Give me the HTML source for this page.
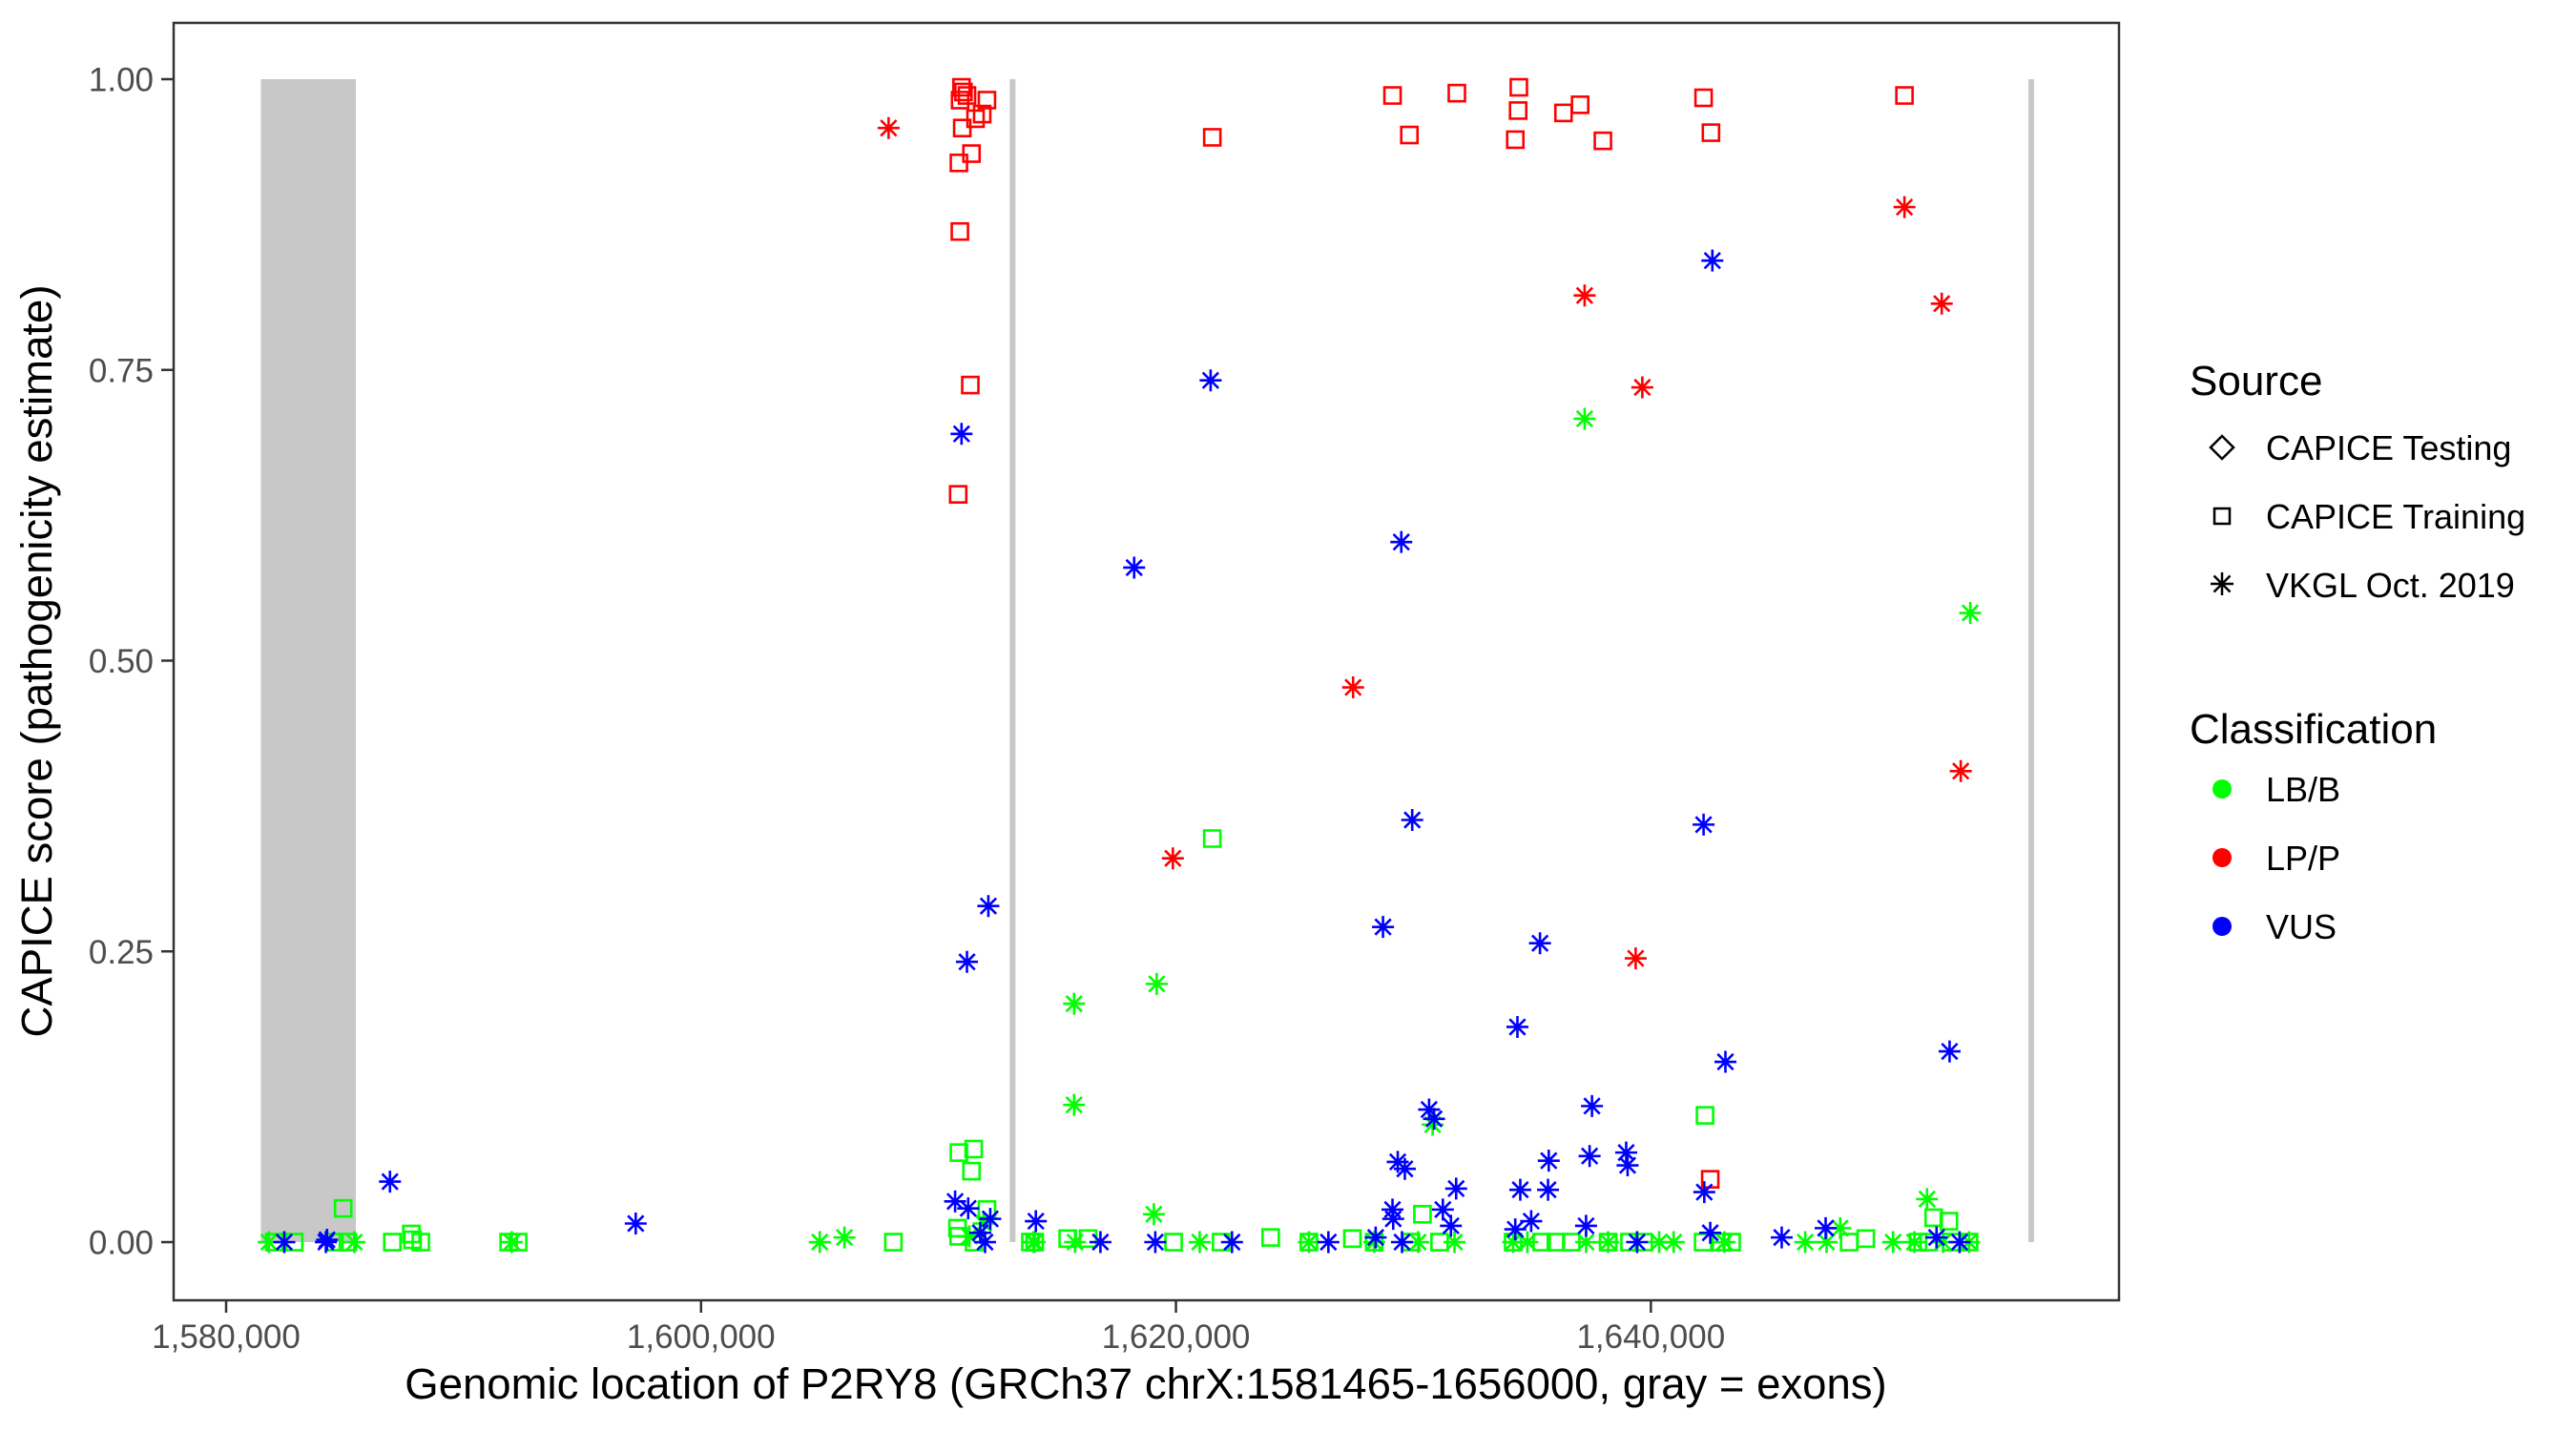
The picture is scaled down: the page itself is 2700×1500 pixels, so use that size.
<!DOCTYPE html>
<html><head><meta charset="utf-8"><style>
html,body{margin:0;padding:0;background:#fff;}
svg{display:block;font-family:"Liberation Sans",Arial,sans-serif;}
</style></head><body>
<svg id="chart" width="2700" height="1500" viewBox="0 0 2700 1500" xmlns="http://www.w3.org/2000/svg">
<rect x="0" y="0" width="2700" height="1500" fill="#fff"/>
<g id="exons"></g>
<g id="marks"></g>
<rect x="182" y="24" width="2039" height="1339" fill="none" stroke="#333" stroke-width="2.5"/>
<g id="axes"></g>
<text x="1201" y="1466" font-size="45.5" text-anchor="middle" fill="#000">Genomic location of P2RY8 (GRCh37 chrX:1581465-1656000, gray = exons)</text>
<text transform="translate(54,693) rotate(-90)" font-size="45.5" text-anchor="middle" fill="#000">CAPICE score (pathogenicity estimate)</text>
<g>
<text x="2295" y="414" font-size="44" fill="#000">Source</text>
<g>
<path d="M2329 457 L2341 469 L2329 481 L2317 469 Z" fill="none" stroke="#000" stroke-width="2.5"/>
<text x="2375" y="482" font-size="36" fill="#000">CAPICE Testing</text></g>
<g>
<rect x="2321" y="533" width="16" height="16" fill="none" stroke="#000" stroke-width="2.5"/>
<text x="2375" y="554" font-size="36" fill="#000">CAPICE Training</text></g>
<g>
<path d="M2317 612 H2341 M2329 600 V624 M2320.5 603.5 L2337.5 620.5 M2337.5 603.5 L2320.5 620.5" stroke="#000" stroke-width="2.5"/>
<text x="2375" y="626" font-size="36" fill="#000">VKGL Oct. 2019</text></g>
<text x="2295" y="779" font-size="44" fill="#000">Classification</text>
<g><circle cx="2329" cy="827" r="10" fill="#00FF00"/><text x="2375" y="840" font-size="36" fill="#000">LB/B</text></g>
<g><circle cx="2329" cy="899" r="10" fill="#FF0000"/><text x="2375" y="912" font-size="36" fill="#000">LP/P</text></g>
<g><circle cx="2329" cy="971" r="10" fill="#0000FF"/><text x="2375" y="984" font-size="36" fill="#000">VUS</text></g>
</g>
</svg>
<script>
const xTicks = [1580000, 1600000, 1620000, 1640000];
const xTickLabels = ["1,580,000", "1,600,000", "1,620,000", "1,640,000"];
const yTicks = [0, 0.25, 0.5, 0.75, 1];
const yTickLabels = ["0.00", "0.25", "0.50", "0.75", "1.00"];
const exonStarts = [1581465, 1613000, 1655900];
const exonEnds = [1585464, 1613220, 1656000];

// kb positions and scores per group
const lppTrainPos = [1610.97,1611.05,1610.91,1611.2,1612.04,1611.84,1611.56,1611.0,1611.39,1610.86,1610.9,1611.34,1610.83,1621.53,1629.12,1629.83,1631.83,1634.44,1634.41,1634.29,1636.32,1637.02,1637.98,1642.22,1642.53,1650.68,1642.5];
const lppTrainScore = [0.993,0.989,0.982,0.986,0.982,0.970,0.966,0.958,0.936,0.928,0.869,0.737,0.643,0.950,0.986,0.952,0.988,0.993,0.973,0.948,0.971,0.978,0.947,0.984,0.954,0.986,0.054];
const lppVkglPos = [1607.9,1650.68,1637.21,1652.25,1639.64,1627.46,1619.87,1653.05,1639.36];
const lppVkglScore = [0.958,0.890,0.814,0.807,0.735,0.477,0.330,0.405,0.244];
const vusVkglPos = [1582.45,1584.2,1584.25,1586.9,1597.25,1610.97,1612.1,1611.2,1610.7,1611.25,1612.18,1611.76,1611.96,1614.1,1642.59,1621.46,1629.49,1618.24,1629.95,1642.22,1628.72,1635.33,1634.38,1643.14,1652.58,1630.66,1630.87,1637.52,1638.96,1639.02,1637.42,1635.7,1629.34,1629.64,1631.8,1634.5,1635.67,1642.25,1629.12,1629.15,1631.24,1631.58,1634.29,1634.96,1637.27,1642.5,1647.36,1645.51,1616.82,1619.13,1622.36,1626.42,1628.41,1629.52,1639.42,1652.03,1653.0];
const vusVkglScore = [0,0,0.002,0.052,0.016,0.695,0.289,0.241,0.035,0.029,0.020,0.008,0,0.018,0.844,0.741,0.602,0.580,0.363,0.359,0.271,0.257,0.185,0.155,0.164,0.114,0.106,0.117,0.077,0.066,0.074,0.070,0.069,0.063,0.046,0.045,0.045,0.043,0.028,0.020,0.028,0.014,0.011,0.018,0.014,0.008,0.012,0.004,0,0,0,0,0.004,0,0,0.004,0];
const lbbVkglPos = [1581.8,1585.4,1605.0,1606.04,1592.03,1614.0,1611.3,1611.9,1637.21,1653.45,1619.19,1615.71,1615.71,1630.81,1619.07,1651.63,1647.97,1614.05,1615.75,1621.0,1625.6,1628.35,1630.2,1631.73,1634.2,1634.8,1637.27,1638.2,1640.35,1640.96,1643.1,1646.5,1647.4,1650.2,1651.1,1652.3,1653.4];
const lbbVkglScore = [0,0,0,0.004,0,0,0.005,0.016,0.708,0.541,0.222,0.205,0.118,0.101,0.024,0.037,0.012,0,0,0,0,0,0,0,0,0,0,0,0,0,0,0,0,0,0,0,0];
const lbbTrainPos = [1582.03,1582.87,1584.56,1585.13,1584.93,1587.0,1587.8,1587.85,1588.2,1591.9,1592.3,1608.1,1610.8,1610.85,1612.04,1610.86,1611.48,1611.39,1611.5,1613.87,1621.53,1642.28,1630.38,1651.91,1652.55,1623.99,1627.43,1649.05,1615.44,1616.3,1614.05,1619.9,1621.9,1625.6,1628.35,1629.9,1631.1,1634.2,1635.4,1636.0,1636.65,1638.2,1639.1,1639.7,1642.2,1642.95,1643.4,1648.35,1651.25,1651.7,1652.65,1653.4];
const lbbTrainScore = [0,0,0,0,0.029,0,0.007,0.002,0,0,0,0,0.012,0.005,0.028,0.077,0.080,0.061,0,0,0.347,0.109,0.024,0.021,0.018,0.004,0.003,0.003,0.003,0.003,0,0,0,0,0,0,0,0,0,0,0,0,0,0,0,0,0,0,0,0,0,0];

const NS = "http://www.w3.org/2000/svg";
function xScale(bp){ return 237 + (bp - 1580000) * 0.024889; }
function yScale(v){ return 1302 - v * 1219; }
function mk(tag, attrs){ const e = document.createElementNS(NS, tag); for (const k in attrs) e.setAttribute(k, attrs[k]); return e; }

const exG = document.getElementById('exons');
exonStarts.forEach((s, i) => {
  const x0 = xScale(s), x1 = xScale(exonEnds[i]);
  const r = mk('rect', {x: x0, y: yScale(1), width: Math.max(x1 - x0, 6), height: yScale(0) - yScale(1), fill: '#C8C8C8'});
  
  
  exG.appendChild(r);
});

const ax = document.getElementById('axes');
xTicks.forEach((t, i) => {
  const x = xScale(t);
  ax.appendChild(mk('line', {x1: x, x2: x, y1: 1363, y2: 1376, stroke: '#333', 'stroke-width': 2.5}));
  const tx = mk('text', {x: x, y: 1413, 'font-size': 35, 'text-anchor': 'middle', fill: '#4D4D4D'});
  tx.textContent = xTickLabels[i];
  
  
  ax.appendChild(tx);
});
yTicks.forEach((t, i) => {
  const y = yScale(t);
  ax.appendChild(mk('line', {x1: 169, x2: 182, y1: y, y2: y, stroke: '#333', 'stroke-width': 2.5}));
  const tx = mk('text', {x: 161, y: y + 12.5, 'font-size': 35, 'text-anchor': 'end', fill: '#4D4D4D'});
  tx.textContent = yTickLabels[i];
  
  
  ax.appendChild(tx);
});

const mG = document.getElementById('marks');
function squares(pos, sc, color, name){
  pos.forEach((p, i) => {
    const x = xScale(p * 1000), y = yScale(sc[i]);
    const r = mk('rect', {x: x - 8.5, y: y - 8.5, width: 17, height: 17, fill: 'none', stroke: color, 'stroke-width': 2.6});
    
    
    mG.appendChild(r);
  });
}
function stars(pos, sc, color, name){
  pos.forEach((p, i) => {
    const x = xScale(p * 1000), y = yScale(sc[i]);
    const h = 11.5, d = 8.2;
    const pth = mk('path', {d: `M${x-h} ${y}H${x+h}M${x} ${y-h}V${y+h}M${x-d} ${y-d}L${x+d} ${y+d}M${x+d} ${y-d}L${x-d} ${y+d}`, stroke: color, 'stroke-width': 2.6, fill: 'none'});
    
    
    mG.appendChild(pth);
  });
}
squares(lbbTrainPos, lbbTrainScore, '#00FF00', 'point-lbb-training');
stars(lbbVkglPos, lbbVkglScore, '#00FF00', 'point-lbb-vkgl');
squares(lppTrainPos, lppTrainScore, '#FF0000', 'point-lpp-training');
stars(lppVkglPos, lppVkglScore, '#FF0000', 'point-lpp-vkgl');
stars(vusVkglPos, vusVkglScore, '#0000FF', 'point-vus-vkgl');
</script>
</body></html>
